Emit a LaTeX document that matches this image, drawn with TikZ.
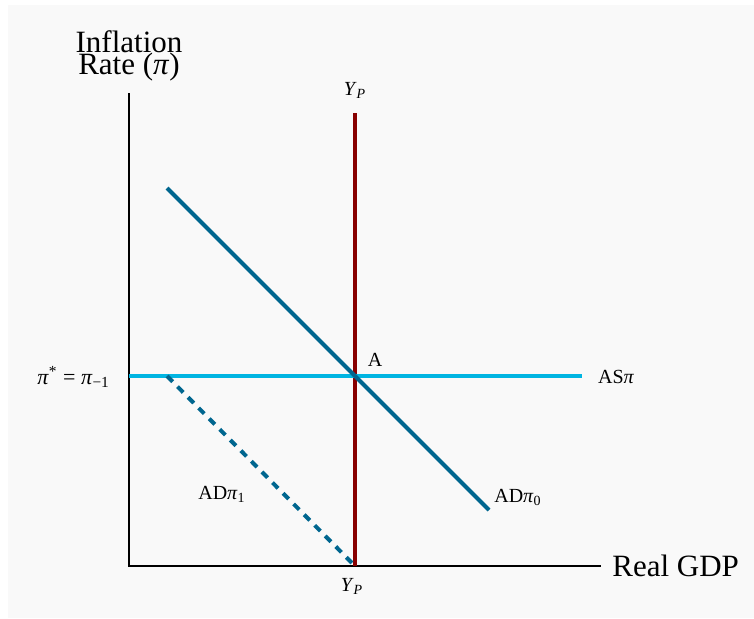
\documentclass[tikz,border=0pt]{standalone}
\usepackage{fontspec}
\setmainfont{Liberation Serif}
\usetikzlibrary{positioning}
\definecolor{adBlue}{HTML}{00668F}
\definecolor{asCyan}{HTML}{00B5E2}
\definecolor{ypRed}{HTML}{880000}
\definecolor{paper}{HTML}{F9F9F9}
\newcommand{\ipi}{\textit{π}}
\newcommand{\potY}{\textit{Y}\textsubscript{\textit{P}}}
\begin{document}
\begin{tikzpicture}[x=0.5pt,y=-0.5pt,font=\fontsize{10}{12}\selectfont,
  axis/.style={black,line width=1pt},
  curve/.style={line width=2pt},
  big/.style={font=\fontsize{15.5}{10.5}\selectfont,inner sep=0pt}]
\useasboundingbox (0,0) rectangle (754,618);
\fill[paper] (8,5) rectangle (754,618);
% axes
\coordinate (o) at (129,566);
\coordinate (ytop) at (129,93);
\coordinate (xend) at (601,566);
\draw[axis] (ytop) -- (o) -- (xend);
\node[big,anchor=base] (ylab) at (129,52) {Inflation};
\node[big,anchor=base] (ylab2) at (129,74) {Rate (\ipi)};
\node[big,anchor=west] (xlab) at (612,566) {Real GDP};
% potential output
\coordinate (ypt) at (355,113);
\coordinate (ypb) at (355,566);
\draw[curve,ypRed] (ypt) -- (ypb);
\node (yptop) at (355,90) {\potY};
\node (ypbot) at (352,586) {\potY};
% AS curve
\coordinate (asl) at (129,376);
\coordinate (asr) at (582,376);
\draw[curve,asCyan] (asl) -- (asr);
\node[anchor=west] (aslab) at (591,377) {AS\ipi};
\node[anchor=east,font=\fontsize{11}{13}\selectfont] (pilab) at (117,377) {\ipi\textsuperscript{*} = \ipi\textsubscript{−1}};
% AD curves
\coordinate (ad0a) at (167,188);
\coordinate (ad0b) at (489,510);
\draw[curve,adBlue] (ad0a) -- (ad0b);
\node (ad0lab) at (518,497) {AD\ipi\textsubscript{0}};
\coordinate (ad1a) at (167,376);
\draw[curve,adBlue,dash pattern=on 4pt off 3.5pt] (ad1a) -- (ypb);
\node (ad1lab) at (222,494) {AD\ipi\textsubscript{1}};
\node (A) at (375,360) {A};
\end{tikzpicture}
\end{document}
